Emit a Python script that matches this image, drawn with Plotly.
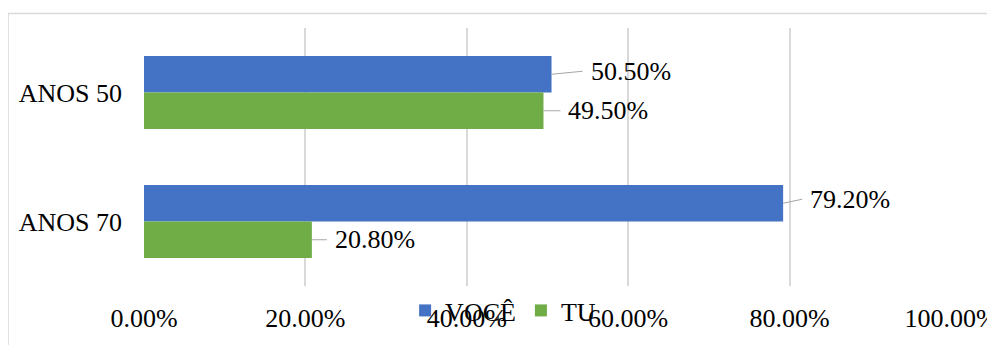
import plotly.graph_objects as go

categories = ["ANOS 50", "ANOS 70"]
voce = [0.505, 0.792]
tu = [0.495, 0.208]
x_ticks = [0, 0.2, 0.4, 0.6, 0.8, 1.0]

BLUE = "#4472C4"
GREEN = "#70AD47"
FONT = "Liberation Serif"

fig = go.Figure()
fig.add_trace(go.Bar(name="VOCÊ", y=categories, x=voce, orientation="h",
                     marker=dict(color=BLUE, line=dict(width=0))))
fig.add_trace(go.Bar(name="TU", y=categories, x=tu, orientation="h",
                     marker=dict(color=GREEN, line=dict(width=0))))

# leader-line label offsets (pixels), style only
offsets_voce = [(31, -3), (19, -4)]
offsets_tu = [(17, 0), (15, 0)]
annotations = []
for vals, offs, shift in ((voce, offsets_voce, 18.25), (tu, offsets_tu, -18.25)):
    for cat, v, (ax, ay) in zip(categories, vals, offs):
        annotations.append(dict(
            x=v, y=cat, xref="x", yref="y", yshift=shift,
            text=f"{v*100:.2f}%", showarrow=True, arrowhead=0,
            arrowwidth=1.2, arrowcolor="#a6a6a6", ax=ax, ay=ay,
            axref="pixel", ayref="pixel",
            xanchor="left", yanchor="middle", borderpad=7,
            font=dict(family=FONT, size=26, color="#000000")))

fig.update_layout(
    width=987, height=337,
    margin=dict(l=136, r=44, t=20, b=59, autoexpand=False),
    paper_bgcolor="white", plot_bgcolor="white",
    barmode="group", bargap=0.434, bargroupgap=0,
    font=dict(family=FONT, size=26, color="#000000"),
    showlegend=True,
    legend=dict(orientation="h", x=0.445, xanchor="center", y=-0.095,
                yanchor="middle", traceorder="normal",
                font=dict(family=FONT, size=26, color="#000000"),
                bgcolor="rgba(0,0,0,0)", itemwidth=30),
    annotations=annotations,
    shapes=[dict(type="rect", xref="paper", yref="paper",
                 x0=-0.1685, x1=1.2, y0=-0.5, y1=1.056,
                 line=dict(color="#d9d9d9", width=1.5), layer="below")],
)
fig.update_xaxes(range=[0, 1], tickvals=x_ticks, tickformat=".2%",
                 showgrid=True, gridcolor="#d9d9d9", gridwidth=1.5,
                 zeroline=False, showline=False, ticks="",
                 ticklabelstandoff=14, automargin=False,
                 ticklabeloverflow="allow",
                 tickfont=dict(family=FONT, size=26, color="#000000"))
fig.update_yaxes(categoryorder="array", categoryarray=categories,
                 autorange="reversed", showgrid=False, zeroline=False,
                 showline=False, ticks="", ticklabelstandoff=21,
                 automargin=False,
                 tickfont=dict(family=FONT, size=26, color="#000000"))

fig.write_html("out.html")
